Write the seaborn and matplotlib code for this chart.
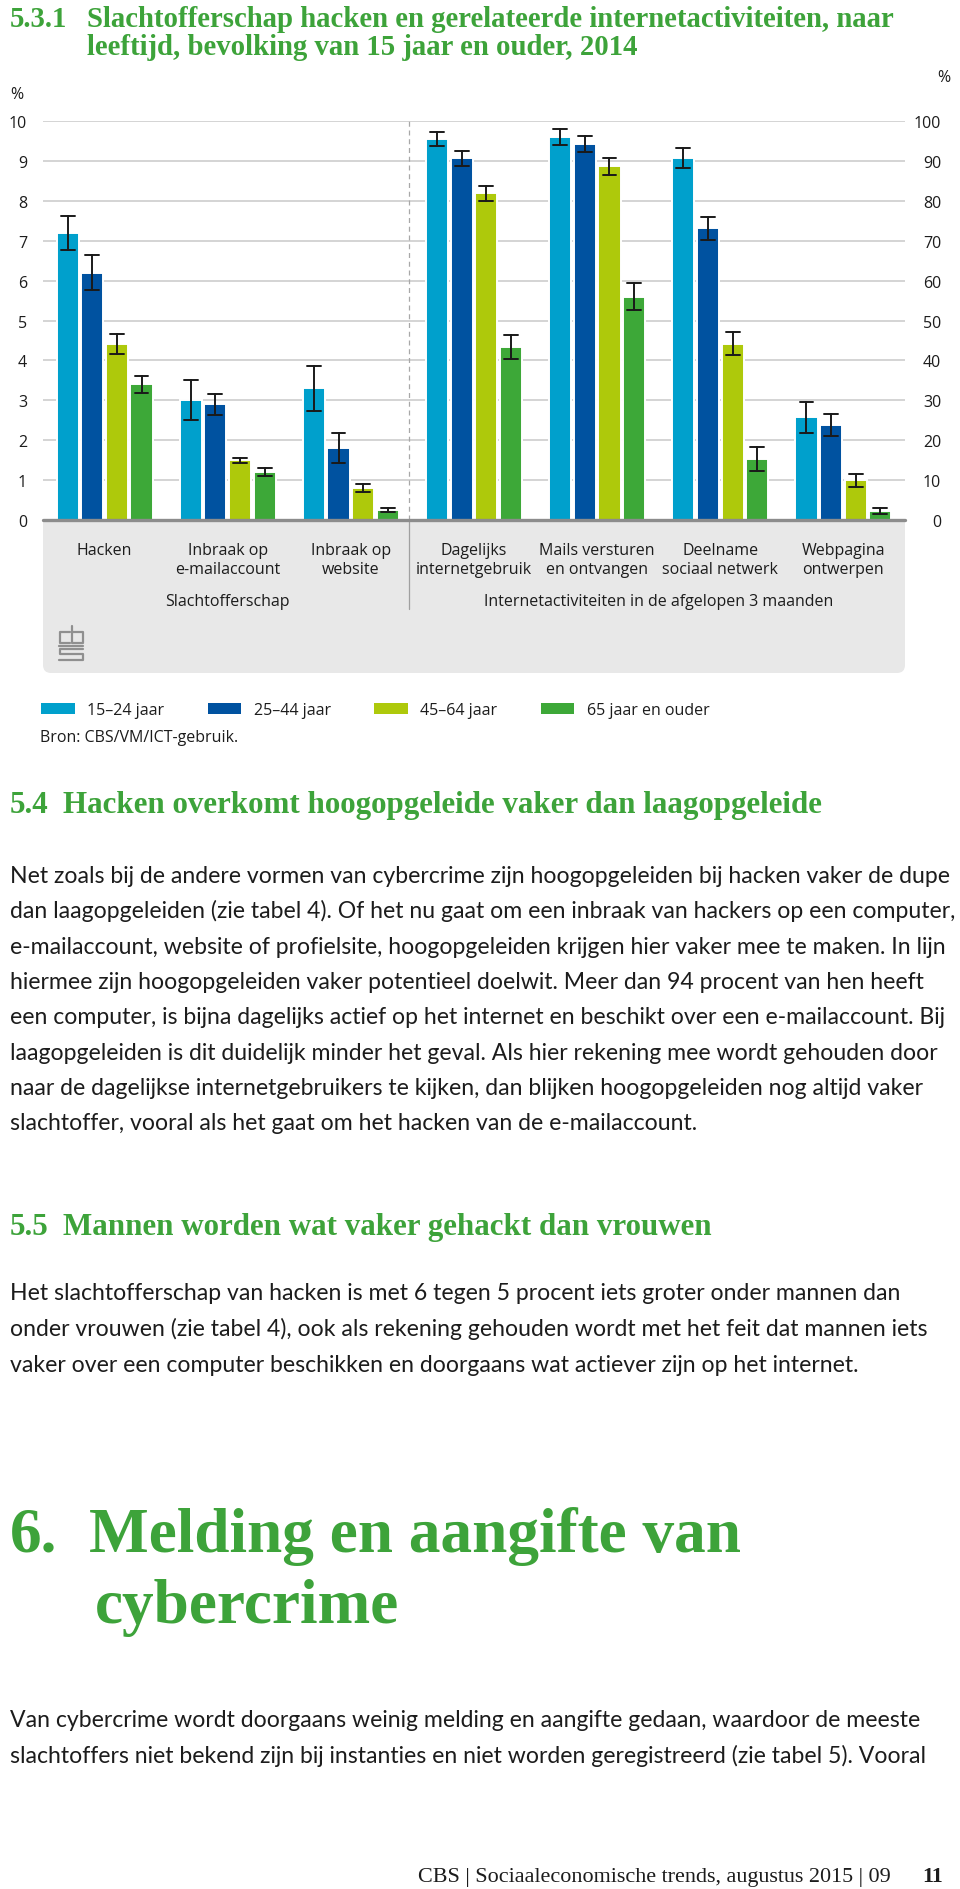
import numpy as np
import pandas as pd
import matplotlib
matplotlib.use("Agg")
import matplotlib.pyplot as plt
import matplotlib.transforms as mtransforms
from matplotlib.patches import FancyBboxPatch, Patch
from matplotlib.lines import Line2D
import seaborn as sns

# Categories: first three are victim rates (left axis 0-10 %),
# the last four are internet activities (right axis 0-100 %)
categories = ["Hacken", "Inbraak op\ne-mailaccount", "Inbraak op\nwebsite",
              "Dagelijks\ninternetgebruik", "Mails versturen\nen ontvangen",
              "Deelname\nsociaal netwerk", "Webpagina\nontwerpen"]
victim_cats = categories[:3]
activity_cats = categories[3:]
ages = ["15–24 jaar", "25–44 jaar", "45–64 jaar", "65 jaar en ouder"]
colors = ["#00A0CC", "#0052A0", "#AEC90B", "#3DA838"]

# Percentages per age group, in category order
pct_15_24 = [7.2, 3.0, 3.3, 95.5, 96.0, 90.7, 25.7]
pct_25_44 = [6.2, 2.9, 1.8, 90.7, 94.3, 73.1, 23.8]
pct_45_64 = [4.4, 1.5, 0.8, 81.9, 88.6, 44.2, 9.9]
pct_65_plus = [3.4, 1.2, 0.25, 43.3, 56.0, 15.4, 2.2]

# Half width of the confidence intervals
err_15_24 = [0.43, 0.50, 0.57, 1.8, 2.0, 2.6, 3.9]
err_25_44 = [0.43, 0.27, 0.37, 1.9, 2.0, 2.8, 2.8]
err_45_64 = [0.25, 0.06, 0.10, 1.9, 2.1, 2.9, 1.6]
err_65_plus = [0.22, 0.10, 0.05, 3.0, 3.3, 3.0, 0.8]

left_ticks = list(range(0, 11))
right_ticks = list(range(0, 101, 10))

title_nr = "5.3.1"
title_1 = "Slachtofferschap hacken en gerelateerde internetactiviteiten, naar"
title_2 = "leeftijd, bevolking van 15 jaar en ouder, 2014"
group_labels = ["Slachtofferschap", "Internetactiviteiten in de afgelopen 3 maanden"]
source = "Bron: CBS/VM/ICT-gebruik."

head_54 = "Hacken overkomt hoogopgeleide vaker dan laagopgeleide"
para_54 = [
    "Net zoals bij de andere vormen van cybercrime zijn hoogopgeleiden bij hacken vaker de dupe",
    "dan laagopgeleiden (zie tabel 4). Of het nu gaat om een inbraak van hackers op een computer,",
    "e-mailaccount, website of profielsite, hoogopgeleiden krijgen hier vaker mee te maken. In lijn",
    "hiermee zijn hoogopgeleiden vaker potentieel doelwit. Meer dan 94 procent van hen heeft",
    "een computer, is bijna dagelijks actief op het internet en beschikt over een e-mailaccount. Bij",
    "laagopgeleiden is dit duidelijk minder het geval. Als hier rekening mee wordt gehouden door",
    "naar de dagelijkse internetgebruikers te kijken, dan blijken hoogopgeleiden nog altijd vaker",
    "slachtoffer, vooral als het gaat om het hacken van de e-mailaccount.",
]
head_55 = "Mannen worden wat vaker gehackt dan vrouwen"
para_55 = [
    "Het slachtofferschap van hacken is met 6 tegen 5 procent iets groter onder mannen dan",
    "onder vrouwen (zie tabel 4), ook als rekening gehouden wordt met het feit dat mannen iets",
    "vaker over een computer beschikken en doorgaans wat actiever zijn op het internet.",
]
head_6 = ["Melding en aangifte van", "cybercrime"]
para_6 = [
    "Van cybercrime wordt doorgaans weinig melding en aangifte gedaan, waardoor de meeste",
    "slachtoffers niet bekend zijn bij instanties en niet worden geregistreerd (zie tabel 5). Vooral",
]
footer = "CBS | Sociaaleconomische trends, augustus 2015 | 09"
page_nr = "11"

# Long table: three rows per bar (low, value, high) so that seaborn's
# median estimator gives the bar and min/max give the interval
rows = []
for age, vals, errs in zip(ages, [pct_15_24, pct_25_44, pct_45_64, pct_65_plus],
                           [err_15_24, err_25_44, err_45_64, err_65_plus]):
    for cat, v, e in zip(categories, vals, errs):
        for p in (v - e, v, v + e):
            rows.append({"cat": cat, "age": age, "pct": p})
df = pd.DataFrame(rows)

sns.set_style("white")
plt.rcParams["font.family"] = ["Open Sans", "DejaVu Sans"]

W, H = 960, 1890
fig = plt.figure(figsize=(W / 100, H / 100), dpi=100)
fig.patch.set_facecolor("white")

# page layer in pixel coordinates for all the text around the chart
page = fig.add_axes([0, 0, 1, 1], zorder=-1)
page.set_xlim(0, W)
page.set_ylim(H, 0)
page.axis("off")
renderer = fig.canvas.get_renderer()

GREEN = "#3DA33A"
INK = "#1c1c1c"
SERIF = ["Liberation Serif", "DejaVu Serif"]
BODY = ["Lato", "DejaVu Sans"]


def fit_size(s, width, family, weight="normal"):
    t = page.text(0, 0, s, fontsize=20, family=family, weight=weight)
    w = t.get_window_extent(renderer).width
    t.remove()
    return 20 * width / w


# chart title
ts = fit_size(title_1, 808, SERIF, "bold")
page.text(10, 27, title_nr, fontsize=ts, family=SERIF, weight="bold", color=GREEN, va="baseline")
page.text(87, 27, title_1, fontsize=ts, family=SERIF, weight="bold", color=GREEN, va="baseline")
page.text(87, 55, title_2, fontsize=ts, family=SERIF, weight="bold", color=GREEN, va="baseline")

# grey panel under the axis
page.add_patch(FancyBboxPatch((43, 480), 862, 194, boxstyle="round,pad=0,rounding_size=8",
                              fc="#E8E8E8", ec="none"))

# cbs logo, roughly
logo = [[(70, 633), (60, 633), (60, 644), (70, 644)],
        [(72, 627), (72, 644), (83, 644), (83, 633), (72, 633)],
        [(59, 647), (83, 647)],
        [(83, 650), (60, 650), (60, 655), (83, 655), (83, 661), (59, 661)]]
for seg in logo:
    xs, ys = zip(*seg)
    page.add_line(Line2D(xs, ys, color="#8f8f8f", lw=1.6))

# chart axes
ax = fig.add_axes([43 / W, 1 - 521 / H, 862 / W, 399 / H])
ax2 = ax.twinx()

bar_kw = dict(x="cat", y="pct", hue="age", order=categories, hue_order=ages,
              palette=colors, saturation=1, estimator="median",
              errorbar=lambda v: (v.min(), v.max()), capsize=0.45,
              err_kws={"color": "#1a1a1a", "linewidth": 1.4},
              width=0.8, gap=0.1, edgecolor="white", linewidth=1.4, legend=False)
sns.barplot(data=df[df["cat"].isin(victim_cats)], ax=ax, **bar_kw)
sns.barplot(data=df[df["cat"].isin(activity_cats)], ax=ax2, **bar_kw)

ax.set_ylim(0, 10)
ax2.set_ylim(0, 100)
ax.set_xlim(-0.5, len(categories) - 0.5)
ax.set_yticks(left_ticks)
ax2.set_yticks(right_ticks)
for a in (ax, ax2):
    a.set_xlabel("")
    a.set_ylabel("")
    for sp in a.spines.values():
        sp.set_visible(False)
ax.yaxis.grid(True, color="#c9c9c9", lw=1.1)
ax.set_axisbelow(True)
ax2.yaxis.grid(False)

ax.tick_params(axis="y", length=0, pad=11.5, labelsize=11.5, labelcolor=INK)
ax2.tick_params(axis="y", length=0, pad=26, labelsize=11.5, labelcolor=INK)
for lab in ax2.get_yticklabels():
    lab.set_horizontalalignment("right")
ax.tick_params(axis="x", length=0, pad=16, labelsize=11.5, labelcolor=INK)
for lab in ax.get_xticklabels():
    lab.set_linespacing(1.2)

ax2.axhline(0, color="#8c8c8c", lw=2.4, zorder=5, clip_on=False)
ax2.axvline(2.47, color="#a8a8a8", lw=0.9, ls=(0, (4, 3)), zorder=0)

page.text(10, 95, "%", fontsize=11.5, color=INK, va="center")
page.text(950, 78, "%", fontsize=11.5, color=INK, va="center", ha="right")

# labels in the panel follow the category positions
blend = mtransforms.blended_transform_factory(ax.transData, page.transData)
page.add_line(Line2D([2.47, 2.47], [522, 610], color="#a0a0a0", lw=0.9, transform=blend))
page.text(1, 602, group_labels[0], transform=blend, ha="center", va="center", fontsize=11.5, color=INK)
page.text(4.5, 602, group_labels[1], transform=blend, ha="center", va="center", fontsize=11.5, color=INK)

handles = [Patch(fc=c, ec="none", label=a) for a, c in zip(ages, colors)]
page.legend(handles=handles, loc="center left", bbox_to_anchor=(41, 711),
            bbox_transform=page.transData, ncol=4, frameon=False, borderpad=0,
            borderaxespad=0, handlelength=2.1, handleheight=0.75, handletextpad=0.8,
            columnspacing=2.7, prop={"size": 11.5}, labelcolor=INK)
page.text(40, 738, source, fontsize=11.5, color=INK, va="center")

# section headings and body text
hs = fit_size(head_54, 761, SERIF, "bold")
bs = fit_size(para_54[0], 942, BODY)

page.text(10, 813, "5.4", fontsize=hs, family=SERIF, weight="bold", color=GREEN, va="baseline")
page.text(63, 813, head_54, fontsize=hs, family=SERIF, weight="bold", color=GREEN, va="baseline")
for i, line in enumerate(para_54):
    page.text(10, 883 + 35.3 * i, line, fontsize=bs, family=BODY, color=INK, va="baseline")

page.text(10, 1235, "5.5", fontsize=hs, family=SERIF, weight="bold", color=GREEN, va="baseline")
page.text(63, 1235, head_55, fontsize=hs, family=SERIF, weight="bold", color=GREEN, va="baseline")
for i, line in enumerate(para_55):
    page.text(10, 1300 + 36 * i, line, fontsize=bs, family=BODY, color=INK, va="baseline")

bigs = fit_size(head_6[0], 652, SERIF, "bold")
page.text(10, 1552, "6.", fontsize=bigs, family=SERIF, weight="bold", color=GREEN, va="baseline")
page.text(89, 1552, head_6[0], fontsize=bigs, family=SERIF, weight="bold", color=GREEN, va="baseline")
page.text(95, 1623, head_6[1], fontsize=bigs, family=SERIF, weight="bold", color=GREEN, va="baseline")
for i, line in enumerate(para_6):
    page.text(10, 1727 + 36 * i, line, fontsize=bs, family=BODY, color=INK, va="baseline")

fs = fit_size(footer, 473, ["Liberation Serif"])
page.text(418, 1882, footer, fontsize=fs, family=["Liberation Serif"], color=INK, va="baseline")
page.text(943, 1882, page_nr, fontsize=fs, family=["Liberation Serif"], weight="bold",
          color=INK, va="baseline", ha="right")

fig.savefig("out.png", dpi=100)
